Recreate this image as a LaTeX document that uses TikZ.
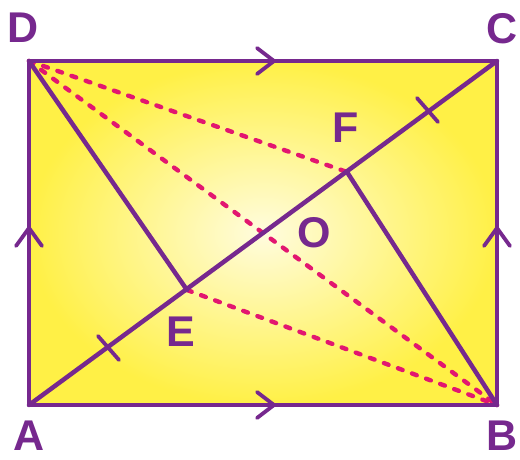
\documentclass[tikz,border=0pt]{standalone}
\usepackage{fontspec}
\setmainfont{Liberation Sans}
\begin{document}
\begin{tikzpicture}[x=1pt,y=-1pt,
  lab/.style={font=\fontsize{43}{43}\selectfont\bfseries, text=ppl, inner sep=0pt},
  edge/.style={draw=ppl, line width=4.5pt, line join=round, line cap=round},
  dsh/.style={draw=mag, line width=4.4pt, line cap=round, dash pattern=on 5pt off 10pt},
  tickmk/.style={draw=ppl, line width=3.8pt, line cap=round, line join=round}]
\definecolor{ppl}{RGB}{118,40,142}
\definecolor{mag}{RGB}{226,22,112}
\definecolor{yin}{RGB}{255,252,222}
\definecolor{yout}{RGB}{255,240,70}
\useasboundingbox (0,0) rectangle (520,460);
\fill[white] (0,0) rectangle (520,460);
\coordinate (A) at (29,405);
\coordinate (B) at (497,405);
\coordinate (C) at (497,61);
\coordinate (D) at (29,61);
\coordinate (E) at (187,290);
\coordinate (F) at (347,172);
\coordinate (O) at (263,233);
\shade[inner color=yin, outer color=yout] (A) rectangle (C);
% dashed lines
\draw[dsh] (D) -- (F);
\draw[dsh] (D) -- (B);
\draw[dsh] (E) -- (B);
% solid lines
\draw[edge] (A) -- (C);
\draw[edge] (D) -- (E);
\draw[edge] (F) -- (B);
\draw[edge] (A) -- (B) -- (C) -- (D) -- cycle;
% arrow chevrons
\draw[tickmk] (257,48) -- (274,61) -- (257,74);
\draw[tickmk] (257,392) -- (274,405) -- (257,418);
\draw[tickmk] (16,246) -- (29,228) -- (42,246);
\draw[tickmk] (484,246) -- (497,228) -- (510,246);
% ticks
\draw[tickmk] (98,336) -- (119,360);
\draw[tickmk] (417,98) -- (438,122);
% labels
\node[lab] (lD) at (23,28) {D};
\node[lab] (lC) at (502,29) {C};
\node[lab] (lA) at (29,436) {A};
\node[lab] (lB) at (502,436) {B};
\node[lab] (lE) at (181,332) {E};
\node[lab] (lF) at (346,128) {F};
\node[lab] (lO) at (314,233) {O};
\end{tikzpicture}
\end{document}
